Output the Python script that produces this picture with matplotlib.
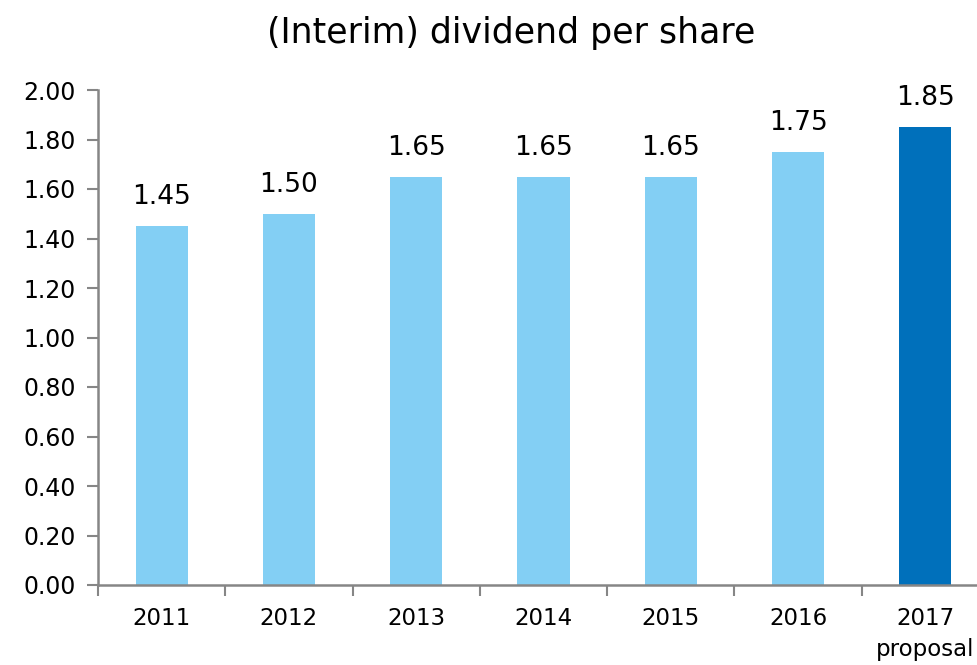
import matplotlib
matplotlib.use("Agg")
import matplotlib.pyplot as plt
import numpy as np

years = ["2011", "2012", "2013", "2014", "2015", "2016", "2017\nproposal"]
dividend = [1.45, 1.50, 1.65, 1.65, 1.65, 1.75, 1.85]
value_labels = ["1.45", "1.50", "1.65", "1.65", "1.65", "1.75", "1.85"]
yticks = [0.0, 0.2, 0.4, 0.6, 0.8, 1.0, 1.2, 1.4, 1.6, 1.8, 2.0]

light = "#83CFF4"
dark = "#0070BB"
axis_grey = "#868686"

plt.rcParams['font.family'] = ['DejaVu Sans']

fig = plt.figure(figsize=(9.77, 6.65), dpi=100)
W, H = 977.0, 665.0
ax = fig.add_axes([98 / W, (H - 585) / H, (989 - 98) / W, (585 - 90) / H])

x = np.arange(len(years))
colors = [light] * (len(years) - 1) + [dark]
ax.bar(x, dividend, width=0.41, color=colors, zorder=2)

for xi, v, lab in zip(x, dividend, value_labels):
    ax.text(xi, v + 0.065, lab, ha="center", va="bottom", fontsize=19, color="black")

ax.set_xlim(-0.5, len(years) - 0.5)
ax.set_ylim(0, 2.0)
ax.set_yticks(yticks)
ax.set_yticklabels(["%.2f" % t for t in yticks], fontsize=17, color="black")

ax.set_xticks(x)
ax.set_xticklabels(years, fontsize=16.5, color="black", linespacing=1.45)
ax.tick_params(axis="x", which="major", length=0, pad=16)
ax.set_xticks(np.arange(-0.5, len(years), 1.0), minor=True)
ax.tick_params(axis="x", which="minor", length=8, width=1.5, color=axis_grey, direction="out")
ax.tick_params(axis="y", length=8, width=1.5, color=axis_grey, direction="out", pad=8)

for s in ["top", "right"]:
    ax.spines[s].set_visible(False)
for s in ["left", "bottom"]:
    ax.spines[s].set_color(axis_grey)
    ax.spines[s].set_linewidth(1.8)

fig.text(511 / W, 1 - 33 / H, "(Interim) dividend per share", ha="center", va="center",
         fontsize=25, color="black")

fig.savefig("out.png", dpi=100)
